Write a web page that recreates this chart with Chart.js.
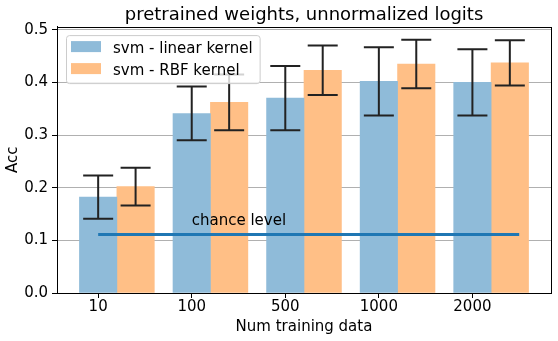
<!DOCTYPE html>
<html><head><meta charset="utf-8">
<script src="https://cdn.jsdelivr.net/npm/chart.js@4/dist/chart.umd.min.js"></script>
<style>html,body{margin:0;padding:0;background:#fff;} canvas{display:block;}</style>
</head><body>
<canvas id="c" width="558" height="341"></canvas>
<script>
const categories = ['10', '100', '500', '1000', '2000'];
const linearAcc = [0.182, 0.341, 0.370, 0.402, 0.400];
const linearErr = [0.041, 0.051, 0.061, 0.065, 0.063];
const rbfAcc = [0.202, 0.362, 0.423, 0.435, 0.437];
const rbfErr = [0.036, 0.053, 0.047, 0.046, 0.043];
const chanceLevel = [0.111, 0.111];
const yTicks = [0, 0.1, 0.2, 0.3, 0.4, 0.5];
const seriesLabels = ['svm - linear kernel', 'svm - RBF kernel'];
const titleText = 'pretrained weights, unnormalized logits';
const xLabel = 'Num training data';
const yLabel = 'Acc';
const chanceText = 'chance level';

const BAR_W = 0.4;
const FONT = "'DejaVu Sans', sans-serif";
const BLUE = '#8fbbd9';
const ORANGE = '#ffbf86';
const xMin = -BAR_W / 2 - 0.05 * (categories.length - 1 + 2 * BAR_W);
const xMax = categories.length - 1 + 1.5 * BAR_W + 0.05 * (categories.length - 1 + 2 * BAR_W);

const blueData = categories.map((c, i) => ({x: i, y: linearAcc[i]}));
const orangeData = categories.map((c, i) => ({x: i + BAR_W, y: rbfAcc[i]}));
const chanceData = [{x: 0, y: chanceLevel[0]}, {x: categories.length - 0.5, y: chanceLevel[1]}];

const extrasPlugin = {
  id: 'extras',
  afterDatasetsDraw(chart) {
    const {ctx, scales: {x, y}} = chart;
    ctx.save();
    ctx.strokeStyle = '#222';
    ctx.lineWidth = 2;
    [[0, linearAcc, linearErr], [1, rbfAcc, rbfErr]].forEach(([di, vals, errs]) => {
      const meta = chart.getDatasetMeta(di);
      vals.forEach((v, i) => {
        const px = meta.data[i].x;
        const top = y.getPixelForValue(v + errs[i]);
        const bot = y.getPixelForValue(v - errs[i]);
        ctx.beginPath();
        ctx.moveTo(px, top); ctx.lineTo(px, bot);
        ctx.moveTo(px - 15, top); ctx.lineTo(px + 15, top);
        ctx.moveTo(px - 15, bot); ctx.lineTo(px + 15, bot);
        ctx.stroke();
      });
    });
    ctx.fillStyle = '#000';
    ctx.font = '15px ' + FONT;
    ctx.textAlign = 'left';
    ctx.textBaseline = 'alphabetic';
    ctx.fillText(chanceText, x.getPixelForValue(1), y.getPixelForValue(0.13));
    ctx.restore();
  },
  afterDraw(chart) {
    const {ctx, chartArea: a} = chart;
    ctx.save();
    ctx.strokeStyle = '#000';
    ctx.lineWidth = 1;
    ctx.strokeRect(Math.round(a.left) + 0.5, Math.round(a.top) + 0.5, Math.round(a.right) - Math.round(a.left), Math.round(a.bottom) - Math.round(a.top));
    // legend
    ctx.font = '15px ' + FONT;
    const bx = a.left + 9, by = a.top + 8.5;
    const textX = bx + 47;
    const tw = Math.max(...seriesLabels.map(s => ctx.measureText(s).width));
    const bw = textX + tw + 7 - bx, bh = 48;
    ctx.beginPath();
    ctx.roundRect(bx + 0.5, by + 0.5, bw, bh, 3);
    ctx.fillStyle = 'rgba(255,255,255,0.8)';
    ctx.fill();
    ctx.strokeStyle = '#cccccc';
    ctx.stroke();
    [BLUE, ORANGE].forEach((col, k) => {
      const cy = by + 11.5 + k * 22;
      ctx.fillStyle = col;
      ctx.fillRect(bx + 5, cy - 5.5, 30, 11);
      ctx.fillStyle = '#000';
      ctx.textBaseline = 'alphabetic';
      ctx.fillText(seriesLabels[k], textX, cy + 6);
    });
    ctx.restore();
  }
};

new Chart(document.getElementById('c'), {
  data: {
    datasets: [
      {type: 'bar', label: seriesLabels[0], data: blueData, backgroundColor: BLUE, grouped: false, barPercentage: 1, categoryPercentage: 1, order: 1},
      {type: 'bar', label: seriesLabels[1], data: orangeData, backgroundColor: ORANGE, grouped: false, barPercentage: 1, categoryPercentage: 1, order: 1},
      {type: 'line', label: 'chance', data: chanceData, borderColor: '#1f77b4', borderWidth: 3, pointRadius: 0, fill: false, order: 0}
    ]
  },
  options: {
    responsive: false,
    animation: false,
    devicePixelRatio: 1,
    layout: {padding: {left: 0, right: 7, top: 0, bottom: 0}},
    plugins: {
      legend: {display: false},
      tooltip: {enabled: false},
      title: {display: true, text: titleText, fullSize: false, color: '#000',
        font: {family: FONT, size: 18, weight: 'normal'}, padding: {top: 4.5, bottom: 0.5}}
    },
    scales: {
      x: {
        type: 'linear', min: xMin, max: xMax, offset: false,
        afterBuildTicks: s => { s.ticks = categories.map((c, i) => ({value: i})); },
        afterFit: s => { s.height = 48; },
        ticks: {callback: (v) => categories[Math.round(v)], color: '#000', font: {family: FONT, size: 15}, padding: 0, maxRotation: 0, autoSkip: false},
        grid: {offset: false, drawOnChartArea: false, drawTicks: true, tickLength: 5, tickColor: '#000'},
        border: {display: true, color: '#000'},
        title: {display: true, text: xLabel, color: '#000', font: {family: FONT, size: 15}, padding: {top: 0, bottom: 5}}
      },
      y: {
        type: 'linear', min: 0, max: 0.506,
        afterBuildTicks: s => { s.ticks = yTicks.map(v => ({value: v})); },
        afterFit: s => { s.width = 57; },
        ticks: {callback: v => v.toFixed(1), color: '#000', font: {family: FONT, size: 15}, padding: 4},
        grid: {color: '#b0b0b0', drawTicks: true, tickLength: 5, tickColor: '#000'},
        border: {display: true, color: '#000'},
        title: {display: true, text: yLabel, color: '#000', font: {family: FONT, size: 15}, padding: {top: 4, bottom: 0}}
      }
    }
  },
  plugins: [extrasPlugin]
});
</script>
</body></html>
